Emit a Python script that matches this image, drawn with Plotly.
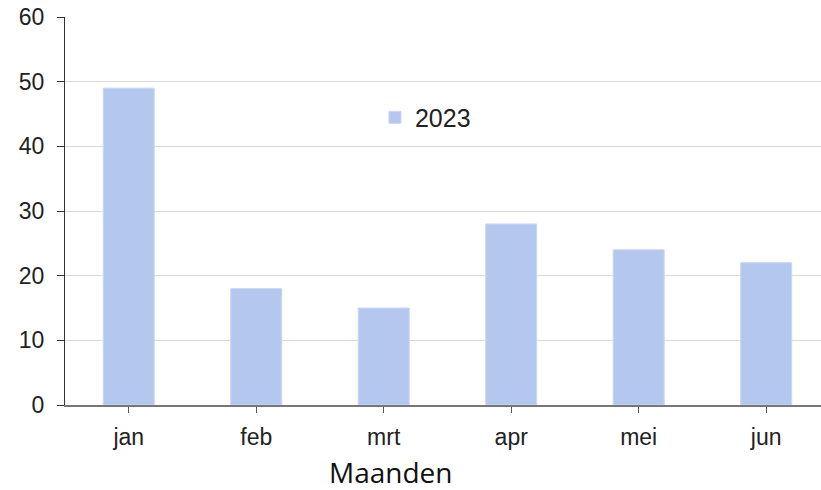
"""staafdiagram per maand"""

import plotly.graph_objects as go

# data
maanden = ["jan", "feb", "mrt", "apr", "mei", "jun"]
waarden_2023 = [49, 18, 15, 28, 24, 22]
y_ticks = [0, 10, 20, 30, 40, 50, 60]

fig = go.Figure()
fig.add_trace(go.Bar(
    x=maanden,
    y=waarden_2023,
    name="2023",
    width=0.4,
    marker=dict(color="#b4c7ee", line=dict(color="#c9d7f3", width=1)),
))

fig.update_layout(
    width=821, height=490,
    margin=dict(l=65, r=0, t=17, b=85),
    plot_bgcolor="white",
    paper_bgcolor="white",
    font=dict(family="Arial", size=23, color="#222222"),
    showlegend=True,
    legend=dict(x=0.41, y=0.80, xanchor="left", yanchor="top",
                bgcolor="rgba(0,0,0,0)", font=dict(size=25),
                itemwidth=30),
)

fig.update_yaxes(
    range=[0, 60], tickvals=y_ticks,
    showgrid=True, gridcolor="#d9d9d9", gridwidth=1,
    showline=True, linecolor="#333333", linewidth=1,
    ticks="outside", ticklen=7, tickcolor="#333333",
    ticklabelstandoff=8,
    zeroline=False,
)
fig.update_xaxes(
    range=[-0.5, 5.43],
    showline=True, linecolor="#777777", linewidth=2,
    ticks="outside", ticklen=6, tickcolor="#555555",
    ticklabelstandoff=4,
)

# as-titel
fig.add_annotation(
    text="Maanden", x=(391 - 65) / 756, xref="paper", y=-0.172, yref="paper",
    yanchor="middle", showarrow=False, borderpad=0,
    font=dict(family="Open Sans", size=28, color="#111111"),
)

# geen marge rond de pagina
fig.write_html("out.html", config={"displayModeBar": False},
               post_script="document.body.style.margin='0';")
